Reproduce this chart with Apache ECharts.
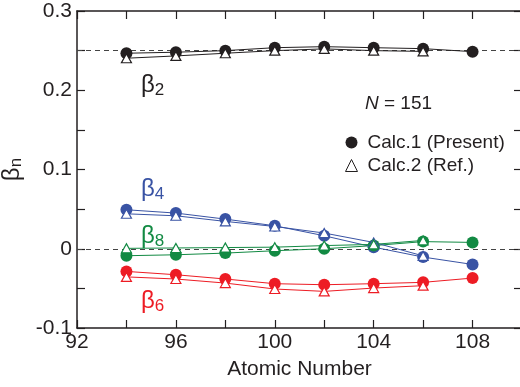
<!DOCTYPE html>
<html>
<head>
<meta charset="utf-8">
<script src="https://cdn.jsdelivr.net/npm/echarts@6/dist/echarts.min.js"></script>
<style>html,body{margin:0;padding:0;background:#fff}#c{width:520px;height:387px}</style>
</head>
<body>
<div id="c"></div>
<script>
// Atomic numbers
var Z = [94, 96, 98, 100, 102, 104, 106, 108];
// beta_2
var b2Calc1 = [0.2467, 0.248, 0.250, 0.2537, 0.255, 0.2537, 0.2525, 0.2487];
var b2Calc2 = [0.2404, 0.2433, 0.2467, 0.250, 0.2522, 0.250, 0.249];
// beta_4
var b4Calc1 = [0.0492, 0.045, 0.0374, 0.029, 0.0164, 0.002, -0.0105, -0.0198];
var b4Calc2 = [0.0441, 0.0416, 0.0345, 0.0281, 0.0198, 0.008, -0.009];
// beta_6
var b6Calc1 = [-0.0286, -0.0328, -0.0382, -0.0441, -0.0454, -0.0441, -0.0424, -0.037];
var b6Calc2 = [-0.0355, -0.0382, -0.0433, -0.0508, -0.0538, -0.0496, -0.0466];
// beta_8
var b8Calc1 = [-0.0088, -0.0076, -0.0055, -0.0025, 0.000, 0.004, 0.009, 0.008];
var b8Calc2 = [0.0005, 0.001, 0.0015, 0.002, 0.004, 0.0055, 0.0105];
// reference lines
var refLines = [0.25, 0];

var BLACK = '#231f20', BLUE = '#3953a4', GREEN = '#128a43', RED = '#ed1c24';
var FONT = 'Liberation Sans, Arial, Helvetica, sans-serif';

function pairs(arr) { return arr.map(function (v, i) { return [Z[i], v]; }); }

function calc1(arr, color) {
  return {
    type: 'line', data: pairs(arr), symbol: 'circle', symbolSize: 12,
    lineStyle: { color: color, width: 1 }, itemStyle: { color: color },
    z: 3, animation: false, silent: true
  };
}
function calc2(arr, color) {
  return {
    type: 'line', data: pairs(arr), symbol: 'triangle', symbolSize: [10, 9],
    lineStyle: { color: color, width: 1 },
    itemStyle: { color: '#fff', borderColor: color, borderWidth: 1.2 },
    z: 4, animation: false, silent: true
  };
}

var chart = echarts.init(document.getElementById('c'));
function axisCommon() {
  return {
    axisLine: { show: true, onZero: false, lineStyle: { color: BLACK, width: 1.5 } },
    axisTick: { show: true, inside: true, length: 8, lineStyle: { color: BLACK, width: 1.2 } },
    splitLine: { show: false }
  };
}

var series = [
  calc1(b2Calc1, BLACK), calc2(b2Calc2, BLACK),
  calc1(b4Calc1, BLUE), calc2(b4Calc2, BLUE),
  calc1(b8Calc1, GREEN), calc2(b8Calc2, GREEN),
  calc1(b6Calc1, RED), calc2(b6Calc2, RED)
];
series[0].markLine = {
  silent: true, symbol: 'none', label: { show: false },
  lineStyle: { color: '#444', type: [5, 4], width: 1 },
  data: refLines.map(function (v) { return { yAxis: v }; }),
  z: 1, animation: false
};
series.push({ name: 'Calc.1 (Present)', type: 'line', data: [], symbol: 'circle',
  itemStyle: { color: BLACK }, lineStyle: { color: BLACK } });
series.push({ name: 'Calc.2 (Ref.)', type: 'line', data: [], symbol: 'triangle',
  itemStyle: { color: '#fff', borderColor: BLACK, borderWidth: 1 }, lineStyle: { color: BLACK } });

var rightAxis = axisCommon();
rightAxis.axisLine.show = false;

function betaLabel(sub, color, top) {
  return { type: 'text', left: 141, top: top, z: 10, style: {
    text: '{b|β}{s|' + sub + '}', rich: {
      b: { fontSize: 24, fill: color, fontFamily: FONT },
      s: { fontSize: 17, fill: color, fontFamily: FONT, padding: [10, 0, 0, 0] } } } };
}

chart.setOption({
  animation: false,
  backgroundColor: '#fff',
  textStyle: { fontFamily: FONT },
  grid: { left: 77, top: 11, width: 445, height: 317, containLabel: false, outerBoundsMode: 'none' },
  legend: {
    orient: 'vertical', left: 340, top: 128, itemWidth: 12, itemHeight: 12, itemGap: 4,
    textStyle: { fontSize: 19, color: BLACK, fontFamily: FONT, padding: [0, 0, 0, 5] },
    data: [
      { name: 'Calc.1 (Present)', icon: 'circle', itemStyle: { color: BLACK } },
      { name: 'Calc.2 (Ref.)', icon: 'triangle', itemStyle: { color: '#fff', borderColor: BLACK, borderWidth: 1 } }
    ],
    selectedMode: false
  },
  xAxis: [
    Object.assign(axisCommon(), {
      type: 'value', min: 92, max: 110, interval: 2, position: 'bottom',
      name: 'Atomic Number', nameLocation: 'middle', nameGap: 31,
      nameTextStyle: { fontSize: 21, color: BLACK, fontFamily: FONT },
      axisLabel: { fontSize: 21, color: BLACK, margin: 4, fontFamily: FONT,
        formatter: function (v) { return (Math.round(v) % 4 === 0) ? String(Math.round(v)) : ''; } }
    }),
    Object.assign(axisCommon(), {
      type: 'value', min: 92, max: 110, interval: 2, position: 'top',
      axisLabel: { show: false }
    })
  ],
  yAxis: [
    Object.assign(axisCommon(), {
      type: 'value', min: -0.1, max: 0.3, interval: 0.05, position: 'left',
      name: '{b|β}{s|n}', nameLocation: 'middle', nameGap: 44, nameRotate: 90,
      nameTextStyle: { rich: {
        b: { fontSize: 24, color: BLACK, fontFamily: FONT },
        s: { fontSize: 17, color: BLACK, fontFamily: FONT, padding: [8, 0, 0, 0] }
      } },
      axisLabel: { fontSize: 21, color: BLACK, margin: 5, fontFamily: FONT,
        formatter: function (v) {
          var k = Math.round(v * 100);
          if (k % 10 !== 0) return '';
          return k === 0 ? '0' : String(k / 100);
        } }
    }),
    Object.assign(rightAxis, {
      type: 'value', min: -0.1, max: 0.3, interval: 0.05, position: 'right',
      axisLabel: { show: false }
    })
  ],
  series: series,
  graphic: [
    betaLabel('2', BLACK, 73),
    betaLabel('4', BLUE, 177),
    betaLabel('8', GREEN, 224),
    betaLabel('6', RED, 289),
    { type: 'text', left: 365, top: 94, z: 10, style: {
      text: '{i|N} = 151', fontSize: 19, fill: BLACK, fontFamily: FONT,
      rich: { i: { fontStyle: 'italic', fontSize: 19, fill: BLACK, fontFamily: FONT } } } }
  ]
});
</script>
</body>
</html>
